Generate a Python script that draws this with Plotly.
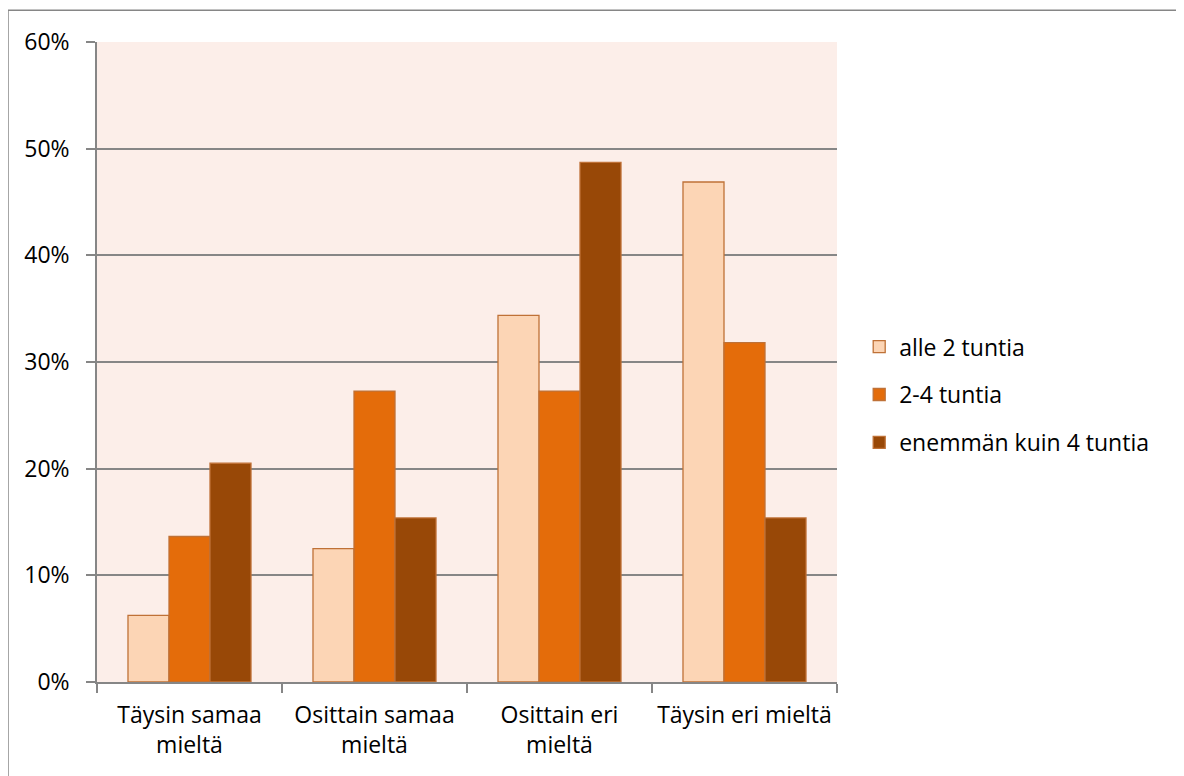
import plotly.graph_objects as go

categories = ["Täysin samaa<br>mieltä", "Osittain samaa<br>mieltä", "Osittain eri<br>mieltä", "Täysin eri mieltä"]
series_names = ["alle 2 tuntia", "2-4 tuntia", "enemmän kuin 4 tuntia"]
alle_2 = [0.0625, 0.125, 0.34375, 0.46875]
kaksi_nelja = [0.1364, 0.2727, 0.2727, 0.3182]
enemman_4 = [0.2051, 0.1538, 0.4872, 0.1538]
y_ticks = [0, 0.1, 0.2, 0.3, 0.4, 0.5, 0.6]

colors = ["#FCD5B5", "#E46C0A", "#984807"]
font_family = "'Open Sans', 'Noto Sans', sans-serif"

fig = go.Figure()
for i, (name, vals) in enumerate(zip(series_names, [alle_2, kaksi_nelja, enemman_4])):
    fig.add_trace(go.Bar(
        x=categories, y=vals, name=name,
        marker=dict(color=colors[i], line=dict(color="#BF7137", width=1.3)),
        legendgroup=f"g{i}",
    ))

fig.update_layout(
    width=1176, height=768,
    margin=dict(l=89, r=347, t=34, b=94),
    paper_bgcolor="white",
    plot_bgcolor="#FCEEE9",
    barmode="group",
    bargap=0.335,
    bargroupgap=0,
    font=dict(family=font_family, size=23, color="#000000"),
    showlegend=True,
    legend=dict(
        x=1.03, y=0.449, xanchor="left", yanchor="middle",
        font=dict(size=23), tracegroupgap=15,
        bgcolor="rgba(0,0,0,0)",
    ),
    xaxis=dict(
        showline=True, linecolor="#868686", linewidth=1.5,
        ticks="outside", tickson="boundaries", ticklen=9,
        tickcolor="#868686", tickwidth=1.5,
        showgrid=False, ticklabelstandoff=12,
    ),
    yaxis=dict(
        range=[0, 0.6], tickvals=y_ticks, tickformat=".0%",
        showline=True, linecolor="#868686", linewidth=1.5,
        ticks="outside", ticklen=9, tickcolor="#868686", tickwidth=1.5,
        showgrid=True, gridcolor="#868686", gridwidth=1.5,
        zeroline=False, ticklabelstandoff=12,
    ),
    shapes=[dict(
        type="rect", xref="paper", yref="paper",
        x0=-0.1203, x1=1.4635, y0=-0.16, y1=1.0495,
        line=dict(color="#868686", width=1.5), fillcolor="rgba(0,0,0,0)",
        layer="below",
    )],
)

fig.write_html("out.html")
